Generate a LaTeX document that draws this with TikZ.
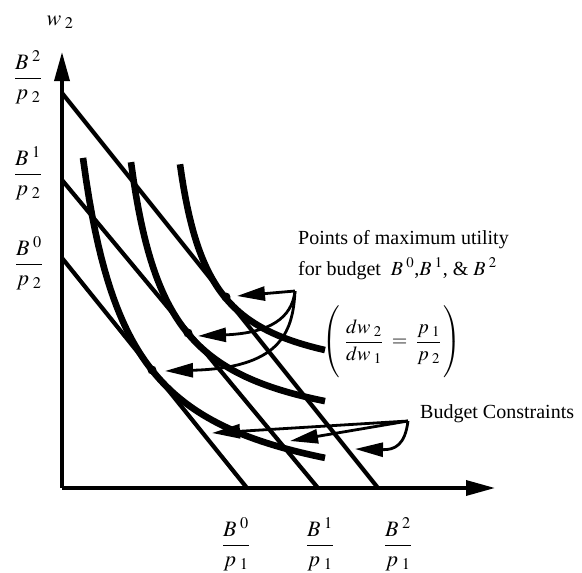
\documentclass[tikz,border=0pt]{standalone}
\usepackage{amsmath}
\usepackage{mathptmx}
\usepackage{fontspec}
\setmainfont{Liberation Serif}
\usetikzlibrary{arrows.meta}
\tikzset{
  axisline/.style={line width=3.4pt,-{Triangle[length=29pt,width=15pt]}},
  budget/.style={line width=4.2pt},
  indiff/.style={line width=6.6pt,line cap=butt},
  pointer/.style={line width=2.8pt,-{Triangle[length=28pt,width=14pt]}},
  lab/.style={font=\fontsize{20}{24}\selectfont,inner sep=0pt},
  axlab/.style={font=\fontsize{22}{26}\selectfont,inner sep=0pt},
  dot/.style={circle,fill=black,inner sep=0pt,minimum size=9pt},
}
\begin{document}
\begin{tikzpicture}[x=1pt,y=-1pt]
\useasboundingbox (0,0) rectangle (582,573);
% axes
\coordinate (O) at (62,488);
\coordinate (Ytip) at (62,52);
\coordinate (Xtip) at (495,488);
\draw[axisline] (O) -- (Ytip);
\draw[axisline] (O) -- (Xtip);
% budget lines
\coordinate (b0y) at (62,258);  \coordinate (b0x) at (247,488);
\coordinate (b1y) at (62,180);  \coordinate (b1x) at (318,488);
\coordinate (b2y) at (62,93);   \coordinate (b2x) at (378,488);
\draw[budget] (b0y) -- (b0x);
\draw[budget] (b1y) -- (b1x);
\draw[budget] (b2y) -- (b2x);
% indifference curves
\draw[indiff] plot[domain=83:325,samples=80] (\x,{517-171.29/((\x-35.3)/100)});
\draw[indiff] plot[domain=131:325,samples=80] (\x,{447.9-108.57/((\x-93)/100)});
\draw[indiff] plot[domain=180:325,samples=80] (\x,{390.25-70.96/((\x-148.6)/100)});
% tangency points
\node[dot] (t0) at (152,370) {};
\node[dot] (t1) at (188,333) {};
\node[dot] (t2) at (226,297) {};
% axis labels
\node[axlab] (w2) at (60,22) {$w_{\,\,2}$};
\node[axlab] (ly2) at (28,77) {$\dfrac{B^{\,\,2}}{p_{\,\,2}}$};
\node[axlab] (ly1) at (28,173) {$\dfrac{B^{\,\,1}}{p_{\,\,2}}$};
\node[axlab] (ly0) at (29,263) {$\dfrac{B^{\,\,0}}{p_{\,\,2}}$};
\node[axlab] (lx0) at (236,544) {$\dfrac{B^{\,\,0}}{p_{\,\,1}}$};
\node[axlab] (lx1) at (320,544) {$\dfrac{B^{\,\,1}}{p_{\,\,1}}$};
\node[axlab] (lx2) at (398,544) {$\dfrac{B^{\,\,2}}{p_{\,\,1}}$};
% annotations
\node[lab,anchor=base west] (pts) at (298,244) {Points of maximum utility};
\node[lab,anchor=base west] (forb) at (298,275) {for budget\enspace$B^{\,\,0}$,$B^{\,\,1}$, \& $B^{\,\,2}$};
\node[lab] (eq) at (392,343) {$\left(\vrule height 33pt depth 33pt width 0pt\;\dfrac{dw_{\,\,2}}{dw_{\,\,1}}\;=\;\dfrac{p_{\,\,1}}{p_{\,\,2}}\,\right)$};
\node[lab,anchor=base west] (bc) at (420,418) {Budget Constraints};
% pointer arrows: points of maximum utility
\coordinate (pc) at (295,291);
\draw[pointer] (pc) -- (237,296);
\draw[pointer] (pc) .. controls (292,318) and (270,333) .. (198,336);
\draw[pointer] (pc) .. controls (293,335) and (278,368) .. (165,371);
% pointer arrows: budget constraints
\coordinate (bcc) at (408,421);
\draw[pointer] (bcc) -- (212,433);
\draw[pointer] (bcc) -- (290,441);
\draw[pointer] (bcc) .. controls (405,445) and (395,450) .. (355,449);
\end{tikzpicture}
\end{document}
